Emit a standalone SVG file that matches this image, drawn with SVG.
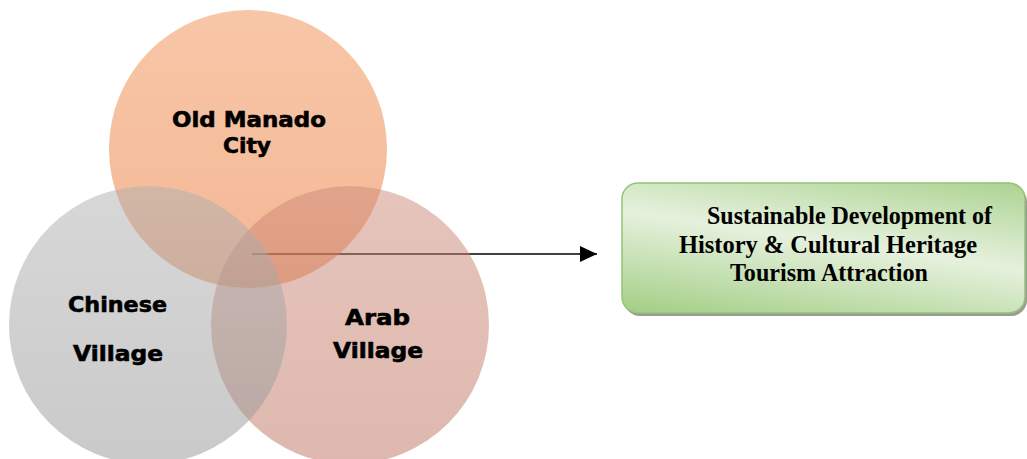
<svg xmlns="http://www.w3.org/2000/svg" width="1027" height="459" viewBox="0 0 1027 459">
  <style>
    .lbl { font-family: "DejaVu Sans", "Liberation Sans", sans-serif; font-weight: bold; font-size: 21px; fill: #000; stroke: #000; stroke-width: 0.6px; }
    .box { font-family: "Liberation Serif", "Times New Roman", serif; font-weight: bold; font-size: 25px; fill: #000; }
    .circ { fill-opacity: 0.5; }
  </style>
  <defs>
    <linearGradient id="gTop" x1="0" y1="0" x2="0" y2="1">
      <stop offset="0" stop-color="#F08F50"/>
      <stop offset="1" stop-color="#E8702C"/>
    </linearGradient>
    <linearGradient id="gLeft" x1="0" y1="0" x2="0" y2="1">
      <stop offset="0" stop-color="#B0B0B0"/>
      <stop offset="1" stop-color="#959595"/>
    </linearGradient>
    <linearGradient id="gRight" x1="0" y1="0" x2="0" y2="1">
      <stop offset="0" stop-color="#CE8A78"/>
      <stop offset="1" stop-color="#BD7260"/>
    </linearGradient>
    <linearGradient id="gBox" x1="0" y1="1" x2="0.6" y2="-0.3">
      <stop offset="0" stop-color="#A2CE85"/>
      <stop offset="0.5" stop-color="#E6F1DD"/>
      <stop offset="1" stop-color="#A2CE85"/>
    </linearGradient>
    <marker id="arrowBig" viewBox="0 0 17 16" refX="17" refY="8" markerWidth="17" markerHeight="16" markerUnits="userSpaceOnUse" orient="auto">
      <path d="M0,0 L17,8 L0,16 Z" fill="#000"/>
    </marker>
  </defs>

  <g id="connectors">
    <line x1="252" y1="254" x2="597" y2="254" stroke="#000" stroke-width="1.5" marker-end="url(#arrowBig)"/>
  </g>

  <g id="node-old-manado">
    <circle class="circ" cx="248" cy="149" r="139" fill="url(#gTop)"/>
  </g>
  <g id="node-arab-village">
    <circle class="circ" cx="350" cy="325" r="139" fill="url(#gRight)"/>
  </g>
  <g id="node-chinese-village">
    <circle class="circ" cx="148" cy="325" r="139" fill="url(#gLeft)"/>
  </g>

  <g id="labels">
    <text class="lbl" x="172" y="127" textLength="154" lengthAdjust="spacingAndGlyphs">Old Manado</text>
    <text class="lbl" x="223" y="153" textLength="48" lengthAdjust="spacingAndGlyphs">City</text>
    <text class="lbl" x="68" y="312" textLength="99" lengthAdjust="spacingAndGlyphs">Chinese</text>
    <text class="lbl" x="73" y="361" textLength="90" lengthAdjust="spacingAndGlyphs">Village</text>
    <text class="lbl" x="345" y="325" textLength="65" lengthAdjust="spacingAndGlyphs">Arab</text>
    <text class="lbl" x="333" y="358" textLength="90" lengthAdjust="spacingAndGlyphs">Village</text>
  </g>

  <g id="node-tourism">
    <rect x="624" y="186" width="403" height="130" rx="16" ry="16" fill="#9A9A9A"/>
    <rect x="622" y="183" width="403" height="130" rx="16" ry="16" fill="url(#gBox)" stroke="#92C474" stroke-width="1.5"/>
    <text class="box" x="707" y="224" textLength="285" lengthAdjust="spacingAndGlyphs">Sustainable Development of</text>
    <text class="box" x="679" y="253" textLength="298" lengthAdjust="spacingAndGlyphs">History &amp; Cultural Heritage</text>
    <text class="box" x="730" y="281" textLength="198" lengthAdjust="spacingAndGlyphs">Tourism Attraction</text>
  </g>
</svg>
